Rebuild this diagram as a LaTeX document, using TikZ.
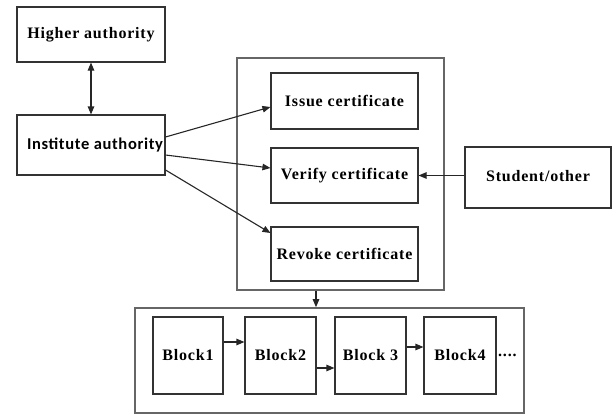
\documentclass[tikz,border=0pt]{standalone}
\usepackage{fontspec}
\setmainfont{Liberation Serif}
\newfontfamily\lblfont[LetterSpace=5]{Liberation Serif}
\newfontfamily\sanslbl[LetterSpace=4]{Carlito}
\usetikzlibrary{arrows.meta}
\begin{document}
\begin{tikzpicture}[x=1pt,y=-1pt,
  box/.style={draw=black!80, line width=1.1pt, fill=white, inner sep=0pt,
    font=\lblfont\fontsize{16}{18}\selectfont\bfseries},
  frame/.style={draw=black!60, line width=1.6pt, inner sep=0pt},
  arr/.style={line width=1.1pt, draw=black!85, -{Triangle[length=8pt,width=6.5pt]}}]
\useasboundingbox (0,0) rectangle (614,416);
% containers
\node[frame, minimum width=207pt, minimum height=232pt] (cont) at (340.5,174) {};
\node[frame, minimum width=389pt, minimum height=105pt] (bot) at (329.5,360.5) {};
% top-left boxes
\node[box, minimum width=148pt, minimum height=55pt] (high) at (91,34.5) {\raisebox{4pt}{Higher authority}};
\node[box, minimum width=148pt, minimum height=60pt, font=\sanslbl\fontsize{16.5}{18}\selectfont\bfseries] (inst) at (91,145) {\hspace*{8pt}\raisebox{2pt}{Institute authority}};
% certificate boxes
\node[box, minimum width=147pt, minimum height=56pt] (issue) at (344.5,101) {Issue certificate};
\node[box, minimum width=147pt, minimum height=55pt] (verify) at (344.5,175.5) {Verify certificate};
\node[box, minimum width=147pt, minimum height=54pt] (revoke) at (344.5,254) {Revoke certificate};
\node[box, minimum width=146pt, minimum height=61pt] (stud) at (538,177.5) {\raisebox{4pt}{Student/other}};
% blocks
\node[box, minimum width=70pt, minimum height=77pt] (b1) at (188,355.5) {Block1};
\node[box, minimum width=71pt, minimum height=77pt] (b2) at (280.5,355.5) {Block2};
\node[box, minimum width=71pt, minimum height=77pt] (b3) at (370.5,355.5) {Block 3};
\node[box, minimum width=72pt, minimum height=77pt] (b4) at (460,355.5) {Block4};
\node[font=\lblfont\fontsize{16}{18}\selectfont\bfseries, anchor=west, inner sep=0pt] (dots) at (498,355) {....};
% connectors
\draw[line width=1.1pt, draw=black!85, {Triangle[length=8pt,width=6.5pt]}-{Triangle[length=8pt,width=6.5pt]}] (high.south) -- (inst.north);
\draw[arr] ([yshift=8pt]inst.east) -- ([yshift=-6pt]issue.west);
\draw[arr] ([yshift=-10pt]inst.east) -- ([yshift=7.5pt]verify.west);
\draw[arr] ([yshift=-25pt]inst.east) -- ([yshift=21pt]revoke.west);
\draw[arr] ([yshift=2pt]stud.west) -- (verify.east);
\draw[arr] ([xshift=-24.5pt]cont.south) -- ([xshift=-13.5pt]bot.north);
\draw[arr] ([yshift=13.5pt]b1.east) -- ([yshift=13.5pt]b2.west);
\draw[arr] ([yshift=-12.5pt]b2.east) -- ([yshift=-12.5pt]b3.west);
\draw[arr] ([yshift=8.5pt]b3.east) -- ([yshift=8.5pt]b4.west);
\end{tikzpicture}
\end{document}
